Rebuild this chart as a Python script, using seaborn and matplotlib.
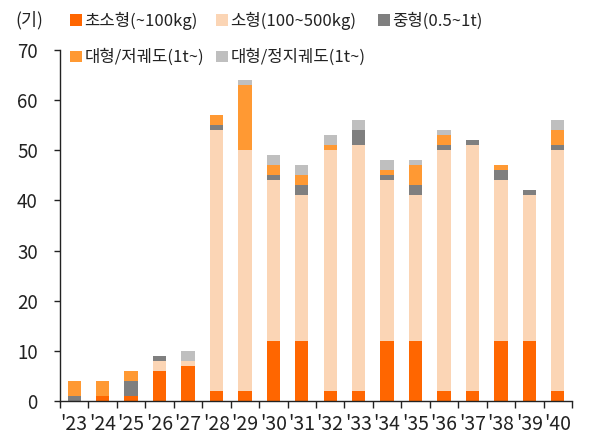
import seaborn as sns
import matplotlib.pyplot as plt
import numpy as np
import pandas as pd
from matplotlib.patches import Patch

years = ["'23", "'24", "'25", "'26", "'27", "'28", "'29", "'30", "'31",
         "'32", "'33", "'34", "'35", "'36", "'37", "'38", "'39", "'40"]
tiny = [0, 1, 1, 6, 7, 2, 2, 12, 12, 2, 2, 12, 12, 2, 2, 12, 12, 2]
small = [0, 0, 0, 2, 1, 52, 48, 32, 29, 48, 49, 32, 29, 48, 49, 32, 29, 48]
medium = [1, 0, 3, 1, 0, 1, 0, 1, 2, 0, 3, 1, 2, 1, 1, 2, 1, 1]
large_leo = [3, 3, 2, 0, 0, 2, 13, 2, 2, 1, 0, 1, 4, 2, 0, 1, 0, 3]
large_geo = [0, 0, 0, 0, 2, 0, 1, 2, 2, 2, 2, 2, 1, 1, 0, 0, 0, 2]

names = ['초소형(~100kg)', '소형(100~500kg)', '중형(0.5~1t)',
         '대형/저궤도(1t~)', '대형/정지궤도(1t~)']
colors = ['#FF6600', '#FBD5B5', '#7F7F7F', '#FF9933', '#BFBFBF']
series = [tiny, small, medium, large_leo, large_geo]

sns.set_style('white')
plt.rcParams['font.family'] = ['Noto Sans CJK KR', 'DejaVu Sans']

fig = plt.figure(figsize=(5.96, 4.40), dpi=100)
ax = fig.add_axes([0.1007, 0.0886, 0.859, 0.7977])

cum = np.cumsum(np.array(series), axis=0)
# draw from the tallest cumulative layer down so each segment shows
for i in range(len(series) - 1, -1, -1):
    df = pd.DataFrame({'year': years, 'val': cum[i]})
    sns.barplot(data=df, x='year', y='val', color=colors[i], saturation=1,
                width=0.47, linewidth=0, edgecolor='none', ax=ax)

ax.set_ylim(0, 70)
ax.set_xlim(-0.5, len(years) - 0.5)
ax.set_yticks(range(0, 71, 10))
ax.set_xlabel('')
ax.set_ylabel('')
ax.tick_params(axis='y', labelsize=13.5, length=4, width=1, color='#222222',
               direction='out', left=True, pad=12, labelcolor='#222222')
ax.tick_params(axis='x', which='major', labelsize=14, length=0, pad=9,
               labelcolor='#222222')
ax.set_xticks(np.arange(-0.5, len(years), 1), minor=True)
ax.tick_params(axis='x', which='minor', length=5, width=1, color='#222222',
               direction='out', bottom=True)
sns.despine(ax=ax)
for s in ['left', 'bottom']:
    ax.spines[s].set_color('#222222')
    ax.spines[s].set_linewidth(1)

fig.text(0.025, 0.955, '(기)', fontsize=12.5, va='center', ha='left',
         color='#222222')

handles = [Patch(facecolor=c, edgecolor='none') for c in colors]
order = [0, 3, 1, 4, 2]
fig.legend([handles[i] for i in order], [names[i] for i in order],
           loc='upper left', bbox_to_anchor=(0.098, 1.0), ncol=3,
           frameon=False, fontsize=12, handlelength=0.7, handleheight=0.7,
           handletextpad=0.15, columnspacing=0.75, labelspacing=1.15,
           borderaxespad=0.3, labelcolor='#222222')

fig.savefig('out.png', dpi=100)
